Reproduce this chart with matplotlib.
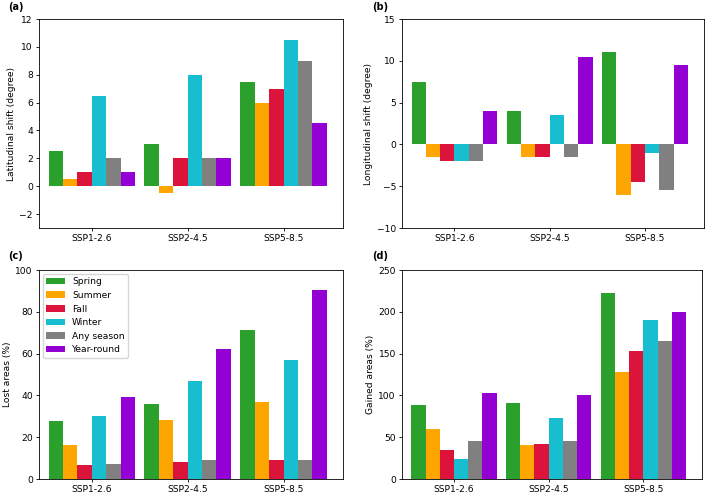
import numpy as np
import matplotlib
matplotlib.use('Agg')
import matplotlib.pyplot as plt
plt.rcParams['font.size'] = 6.6
plt.rcParams['xtick.major.size'] = 2.2
plt.rcParams['ytick.major.size'] = 2.2
plt.rcParams['xtick.major.pad'] = 2.2
plt.rcParams['ytick.major.pad'] = 2.2
plt.rcParams['xtick.major.width'] = 0.6
plt.rcParams['ytick.major.width'] = 0.6
plt.rcParams['axes.linewidth'] = 0.6
plt.rcParams['axes.labelpad'] = 2.5

scenarios = ['SSP1-2.6', 'SSP2-4.5', 'SSP5-8.5']
seasons = ['Spring', 'Summer', 'Fall', 'Winter', 'Any season', 'Year-round']
colors = ['#2ca02c', 'orange', 'crimson', '#17becf', 'grey', 'darkviolet']

# rows = seasons, columns = scenarios
lat_shift = [[2.5, 3.0, 7.5],
             [0.5, -0.5, 6.0],
             [1.0, 2.0, 7.0],
             [6.5, 8.0, 10.5],
             [2.0, 2.0, 9.0],
             [1.0, 2.0, 4.5]]
lon_shift = [[7.5, 4.0, 11.0],
             [-1.5, -1.5, -6.0],
             [-2.0, -1.5, -4.5],
             [-2.0, 3.5, -1.0],
             [-2.0, -1.5, -5.5],
             [4.0, 10.5, 9.5]]
lost = [[27.8, 35.7, 71.5],
        [16.3, 28.0, 36.7],
        [6.8, 8.3, 9.0],
        [30.0, 46.8, 57.0],
        [7.3, 9.3, 9.0],
        [39.2, 62.3, 90.3]]
gained = [[88.0, 90.5, 223.0],
          [59.5, 40.5, 128.0],
          [35.0, 42.0, 153.0],
          [24.0, 72.5, 190.5],
          [45.5, 45.5, 164.5],
          [102.5, 101.0, 200.0]]

W, H = 709, 494
fig = plt.figure(figsize=(W / 100, H / 100), dpi=100)

def box(l, r, t, b):
    return [l / W, 1 - b / H, (r - l) / W, (b - t) / H]

panels = [
    ('(a)', lat_shift, 'Latitudinal shift (degree)', (-3, 12), box(39, 343, 19, 228), (8, 7)),
    ('(b)', lon_shift, 'Longitudinal shift (degree)', (-10, 15), box(402, 704, 19, 228), (372, 7)),
    ('(c)', lost, 'Lost areas (%)', (0, 100), box(39, 343, 270, 479), (8, 256)),
    ('(d)', gained, 'Gained areas (%)', (0, 250), box(402, 702, 270, 479), (372, 256)),
]

x = np.arange(len(scenarios))
w = 0.15
for tag, data, ylabel, ylim, pos, tpos in panels:
    ax = fig.add_axes(pos)
    for i, vals in enumerate(data):
        ax.bar(x - 0.375 + i * w, vals, w, color=colors[i], label=seasons[i])
    ax.set_xticks(x)
    ax.set_xticklabels(scenarios)
    ax.set_xlim(-0.55, 2.62)
    ax.set_ylim(*ylim)
    ax.set_ylabel(ylabel)
    fig.text(tpos[0] / W, 1 - tpos[1] / H, tag, fontweight='bold', fontsize=7, va='center')
    if tag == '(c)':
        ax.legend(loc='upper left', labelspacing=0.5, borderaxespad=0.4)

fig.savefig('out.png', dpi=100)
